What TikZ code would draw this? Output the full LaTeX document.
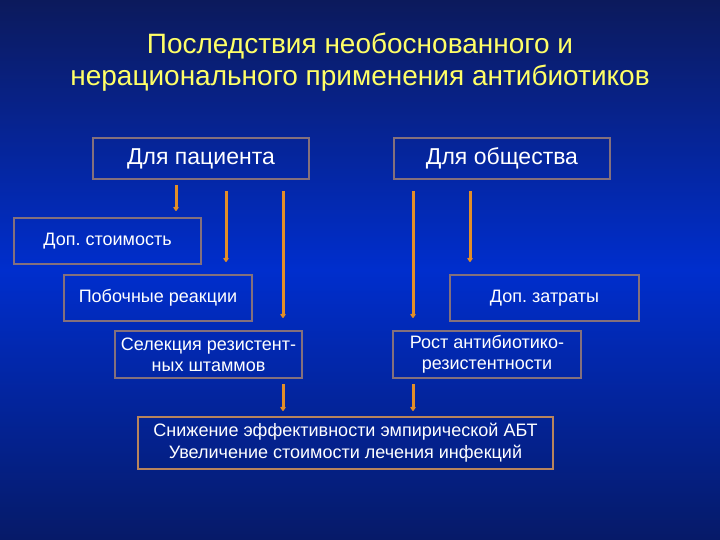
\documentclass[tikz,border=0pt]{standalone}
\usepackage{fontspec}
\setmainfont{Liberation Sans}
\frenchspacing
\usetikzlibrary{arrows.meta,positioning}
\definecolor{skytop}{RGB}{12,26,92}
\definecolor{skymid}{RGB}{0,46,205}
\definecolor{skybot}{RGB}{6,26,104}
\definecolor{titleyellow}{RGB}{255,255,102}
\definecolor{boxgrey}{RGB}{132,112,124}
\definecolor{boxtan}{RGB}{184,132,92}
\definecolor{arroworange}{RGB}{226,142,40}

\begin{document}
\begin{tikzpicture}[x=1pt,y=-1pt,
    box/.style={draw=boxgrey,line width=2pt,text=white,align=center,inner sep=0pt},
    flow/.style={-{Triangle[width=6pt,length=4.5pt,round]},line width=3pt,arroworange}]
        % background
        \shade[top color=skytop,bottom color=skybot,middle color=skymid] (0,0) rectangle (720,540);
        \useasboundingbox (0,0) rectangle (720,540);
        \node[text=titleyellow,align=center,font=\fontsize{28}{32}\selectfont] (title) at (360,62)
          {Последствия необоснованного и\\нерационального применения антибиотиков};
        % two sides
        \node[box,minimum width=216,minimum height=41,font=\fontsize{23}{26}\selectfont] (pat) at (201,158.5) {Для пациента};
        \node[box,minimum width=216,minimum height=41,font=\fontsize{23}{26}\selectfont] (soc) at (502,158.5) {Для общества};
        % consequences
        \node[box,minimum width=187,minimum height=46,font=\fontsize{18}{21}\selectfont] (cost) at (107.5,241) {Доп. стоимость};
        \node[box,minimum width=188,minimum height=46,font=\fontsize{18}{21}\selectfont] (side) at (158,298) {Побочные реакции};
        \node[box,minimum width=187,minimum height=47,font=\fontsize{18}{21}\selectfont] (sel) at (208.5,354.5) {Селекция резистент-\\ных штаммов};
        \node[box,minimum width=189,minimum height=46,font=\fontsize{18}{21}\selectfont] (extra) at (544.5,298) {Доп. затраты};
        \node[box,minimum width=188,minimum height=47,font=\fontsize{18}{21}\selectfont] (res) at (487,354.5) {Рост антибиотико-\\резистентности};
        \node[box,draw=boxtan,minimum width=415,minimum height=52,font=\fontsize{18}{22}\selectfont] (eff) at (345.5,443)
          {Снижение эффективности эмпирической АБТ\\Увеличение стоимости лечения инфекций};
        % arrows
        \draw[flow,shorten <=5pt,shorten >=6pt] ([xshift=-25]pat.south) -- ([xshift=68.5]cost.north);
        \draw[flow,shorten <=11pt,shorten >=12pt] ([xshift=25]pat.south) -- ([xshift=68]side.north);
        \draw[flow,shorten <=11pt,shorten >=12pt] ([xshift=82]pat.south) -- ([xshift=74.5]sel.north);
        \draw[flow,shorten <=11pt,shorten >=12pt] ([xshift=-89]soc.south) -- ([xshift=-74]res.north);
        \draw[flow,shorten <=11pt,shorten >=12pt] ([xshift=-32]soc.south) -- ([xshift=-74.5]extra.north);
        \draw[flow,shorten <=5pt,shorten >=5pt] ([xshift=74.5]sel.south) -- ([xshift=-62.5]eff.north);
        \draw[flow,shorten <=5pt,shorten >=5pt] ([xshift=-74]res.south) -- ([xshift=67.5]eff.north);
\end{tikzpicture}
\end{document}
